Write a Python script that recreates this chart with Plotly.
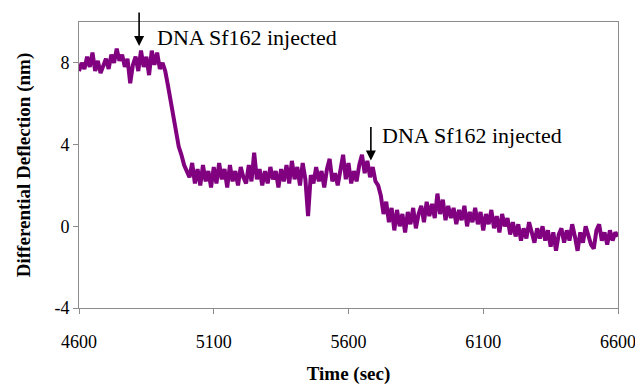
import plotly.graph_objects as go

# Sampling times (sec), one sample every 10 s
time_start = 4600
time_step = 10

deflection = [
    # 4600-4910 baseline ~8
    7.6, 8.0, 7.7, 8.3, 7.8, 8.5, 7.6, 8.1, 7.5, 7.9,
    8.2, 7.7, 8.4, 8.0, 8.7, 8.1, 8.4, 7.8, 8.2, 7.0,
    7.9, 8.3, 7.6, 8.6, 7.8, 8.3, 7.4, 8.6, 7.9, 8.5,
    7.7, 8.0,
    # 4920-5000 drop
    7.6, 6.9, 6.2, 5.3, 4.7, 3.9, 3.5, 3.0, 2.7,
    # 5010-5690 plateau ~2.5
    2.4, 3.1, 2.1, 2.8, 2.0, 3.0, 2.2, 2.7, 1.9, 2.9,
    2.1, 3.1, 2.3, 2.8, 1.9, 3.0, 2.2, 2.7, 2.0, 2.9,
    2.4, 2.1, 3.0, 2.2, 3.6, 2.3, 2.8, 2.0, 2.7, 2.1,
    2.9, 2.3, 2.7, 1.9, 2.8, 2.2, 3.0, 2.1, 3.2, 2.3,
    2.9, 2.0, 3.1, 2.3, 0.5, 2.5, 2.1, 2.9, 2.2, 2.7,
    1.9, 2.8, 3.3, 2.2, 2.6, 2.0, 2.9, 3.5, 2.3, 3.1,
    2.1, 2.7, 2.2, 3.0, 3.5, 2.6, 3.2, 2.4, 2.9,
    # 5700-5750 second drop
    2.2, 2.0, 1.5, 0.6, 1.2, 0.2,
    # 5760-6200
    0.9, -0.2, 0.8, 0.0, 0.6, -0.3, 0.7, 0.1, 0.9, -0.1,
    0.6, 1.0, 0.2, 1.2, 0.5, 1.1, 0.4, 1.6, 0.6, 1.3,
    0.3, 1.0, 0.4, 0.9, 0.1, 0.8, 0.3, 1.0, 0.0, 0.7,
    0.2, 0.9, 0.1, 0.7, -0.2, 0.6, 0.1, 0.8, -0.1, 0.5,
    -0.3, 0.6, 0.0, 0.4, -0.4,
    # 6210-6600
    0.2, -0.5, 0.1, -0.7, -0.1, -0.6, 0.2, -0.4, -0.8, -0.1,
    -0.6, 0.0, -0.7, -0.2, -1.0, -0.3, -1.2, -0.4, -0.1, -0.8,
    -0.2, -0.7, 0.1, -0.5, -1.2, -0.3, -0.8, 0.0, -0.4, -0.9,
    -1.1, -0.2, 0.1, -0.7, -0.3, -0.9, -0.2, -0.7, -0.3, -0.5,
]
time = [time_start + time_step * i for i in range(len(deflection))]

x_ticks = [4600, 5100, 5600, 6100, 6600]
y_ticks = [-4, 0, 4, 8]

injections = [
    {"t": 4823, "y": 8.83, "label": "DNA Sf162 injected", "tx": 4882, "ty": 9.22},
    {"t": 5683, "y": 3.22, "label": "DNA Sf162 injected", "tx": 5717, "ty": 4.44},
]

serif = "Liberation Serif"

fig = go.Figure()
fig.add_trace(go.Scatter(x=time, y=deflection, mode="lines",
                         line=dict(color="#800080", width=4), showlegend=False))

annotations = []
for inj in injections:
    annotations.append(dict(x=inj["t"], y=inj["y"], xref="x", yref="y", text="",
                            showarrow=True, ax=0, ay=-35, arrowhead=2, arrowsize=1.25,
                            arrowwidth=1.6, arrowcolor="black"))
    annotations.append(dict(x=inj["tx"], y=inj["ty"], xref="x", yref="y", text=inj["label"],
                            showarrow=False, xanchor="left", yanchor="middle",
                            font=dict(family=serif, size=22, color="black")))

# the page body has an 8px margin: figure is 8px smaller, margins shifted
fig.update_layout(
    width=635, height=379,
    margin=dict(l=71, r=25, t=14, b=79),
    paper_bgcolor="white", plot_bgcolor="white",
    font=dict(family=serif, size=18, color="black"),
    annotations=annotations,
    xaxis=dict(range=[4600, 6600], tickvals=x_ticks, ticktext=[str(v) for v in x_ticks],
               showgrid=False, zeroline=False, showline=True, linecolor="#8c8c8c",
               linewidth=1, mirror=True, ticks="outside", ticklen=5, tickcolor="#8c8c8c",
               ticklabelstandoff=12, automargin=False,
               title=dict(text="<b>Time (sec)</b>", font=dict(family=serif, size=19), standoff=16)),
    yaxis=dict(range=[-4, 10], tickvals=y_ticks, ticktext=[str(v) for v in y_ticks],
               showgrid=False, zeroline=False, showline=True, linecolor="#8c8c8c",
               linewidth=1, mirror=True, ticks="outside", ticklen=5, tickcolor="#8c8c8c",
               automargin=False,
               title=dict(text="<b>Differential Deflection (nm)</b>", font=dict(family=serif, size=19),
                          standoff=18)),
)

fig.write_html("out.html")
